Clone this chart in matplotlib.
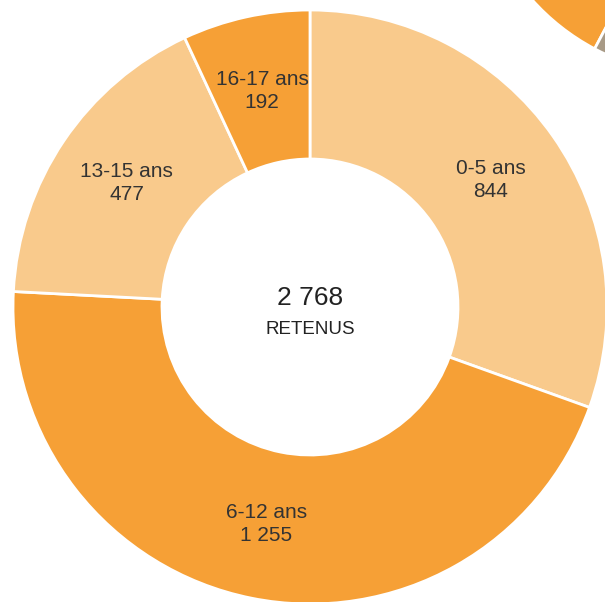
import matplotlib
matplotlib.use("Agg")
import matplotlib.pyplot as plt

categories = ["0-5 ans", "6-12 ans", "13-15 ans", "16-17 ans"]
values = [844, 1255, 477, 192]
value_labels = ["844", "1 255", "477", "192"]
colors = ["#F9CA8C", "#F6A036", "#F9CA8C", "#F6A036"]
total_label = "2 768"
total_caption = "RETENUS"

# partial neighbouring donut visible in the corner
other_values = [0.228, 0.04, 0.732]
other_colors = ["#F6A036", "#A89A86", "#F6A036"]

plt.rcParams['font.family'] = ['Liberation Sans', 'DejaVu Sans']

fig = plt.figure(figsize=(6.05, 6.02), dpi=100)
ax = fig.add_axes([0, 0, 1, 1])

cx, cy, R = 310, 295, 297
labels = [f"{c}\n{v}" for c, v in zip(categories, value_labels)]
wedges, texts = ax.pie(values, colors=colors, startangle=90, counterclock=False,
                       center=(cx, cy), radius=R, labels=labels, labeldistance=0.745,
                       wedgeprops=dict(width=R - 148, edgecolor="white", linewidth=2),
                       textprops=dict(fontsize=15, color="#333333", ha="center", va="center",
                                      linespacing=1.25))
for t in texts:
    t.set_horizontalalignment("center")

ax.pie(other_values, colors=other_colors, startangle=160, counterclock=True,
       center=(700, 752), radius=225, wedgeprops=dict(width=130, edgecolor="white", linewidth=2))

ax.text(cx, 304, total_label, fontsize=19, color="#222222", ha="center", va="center")
ax.text(cx, 272, total_caption, fontsize=13.5, color="#222222", ha="center", va="center")

ax.set_xlim(0, 605)
ax.set_ylim(0, 602)
ax.set_aspect('equal')
ax.axis('off')
fig.savefig("out.png", dpi=100)
